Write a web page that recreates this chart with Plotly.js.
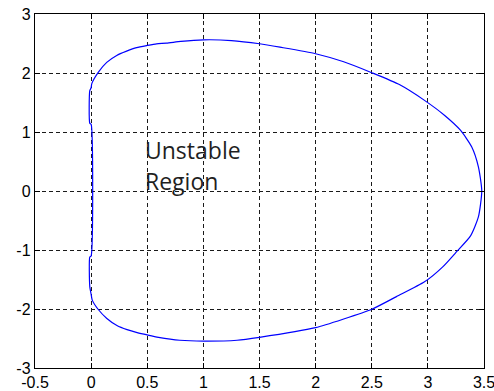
<!DOCTYPE html>
<html>
<head>
<meta charset="utf-8">
<script src="https://cdn.plot.ly/plotly-3.0.1.min.js"></script>
<style>html,body{margin:0;padding:0;background:#fff;}#plot{width:494px;height:391px;}</style>
</head>
<body>
<div id="plot"></div>
<script>
// Boundary curve, traced clockwise from the upper-left
var curveX = [0.0, 0.006, 0.065, 0.139, 0.228, 0.316, 0.405, 0.5, 0.583, 0.671, 0.8, 1.0, 1.25, 1.5, 1.683, 2.0, 2.25, 2.5, 2.75, 2.97, 3.15, 3.29, 3.39, 3.45, 3.48, 3.45, 3.38, 3.26, 3.13, 2.97, 2.72, 2.5, 2.25, 2.0, 1.5, 1.3, 1.0, 0.79, 0.6, 0.5, 0.41, 0.32, 0.23, 0.14, 0.06, 0.01, 0.0, -0.012, -0.012, 0.0, 0.0, -0.012, -0.012, 0.0];
var curveY = [1.75, 1.82, 2.015, 2.18, 2.298, 2.37, 2.43, 2.467, 2.495, 2.505, 2.535, 2.562, 2.55, 2.496, 2.438, 2.327, 2.19, 2.005, 1.80, 1.536, 1.28, 1.03, 0.75, 0.41, 0.0, -0.44, -0.76, -1.02, -1.29, -1.54, -1.79, -2.005, -2.17, -2.316, -2.48, -2.53, -2.545, -2.53, -2.48, -2.44, -2.40, -2.35, -2.28, -2.16, -2.0, -1.85, -1.75, -1.62, -1.12, -1.10, 1.13, 1.15, 1.70, 1.75];

var xTicks = [-0.5, 0, 0.5, 1, 1.5, 2, 2.5, 3, 3.5];
var xTickText = ['-0.5', '0', '0.5', '1', '1.5', '2', '2.5', '3', '3.5'];
var yTicks = [-3, -2, -1, 0, 1, 2, 3];
var yTickText = ['-3', '-2', '-1', '0', '1', '2', '3'];

var labelLine1 = 'Unstable';
var labelLine2 = 'Region';

var axisCommon = {
  showgrid: true,
  gridcolor: '#1a1a1a',
  gridwidth: 1,
  griddash: '4px,3px',
  zeroline: false,
  showline: true,
  linecolor: '#000',
  linewidth: 1.2,
  mirror: 'allticks',
  ticks: 'inside',
  ticklen: 5,
  tickcolor: '#000',
  tickwidth: 1,
  tickmode: 'array',
  ticklabeloverflow: 'allow',
  tickfont: {family: 'Liberation Sans, Arial, sans-serif', size: 16, color: '#000'}
};

var layout = {
  width: 494,
  height: 391,
  margin: {l: 35, r: 10, t: 14, b: 23, pad: 0},
  paper_bgcolor: '#fff',
  plot_bgcolor: '#fff',
  showlegend: false,
  xaxis: Object.assign({}, axisCommon, {range: [-0.5, 3.5], tickvals: xTicks, ticktext: xTickText}),
  yaxis: Object.assign({}, axisCommon, {range: [-3, 3], tickvals: yTicks, ticktext: yTickText}),
  annotations: [
    {x: 0.465, y: 0.70, xref: 'x', yref: 'y', xanchor: 'left', yanchor: 'middle', text: labelLine1, showarrow: false,
     font: {family: 'Open Sans, sans-serif', size: 23, color: '#1f1f1f'}},
    {x: 0.465, y: 0.17, xref: 'x', yref: 'y', xanchor: 'left', yanchor: 'middle', text: labelLine2, showarrow: false,
     font: {family: 'Open Sans, sans-serif', size: 23, color: '#1f1f1f'}}
  ]
};

var trace = {
  x: curveX,
  y: curveY,
  type: 'scatter',
  mode: 'lines',
  line: {color: '#0000ff', width: 1.2, shape: 'spline', smoothing: 0.6},
  hoverinfo: 'skip'
};

Plotly.newPlot('plot', [trace], layout, {staticPlot: true, displayModeBar: false});
</script>
</body>
</html>
